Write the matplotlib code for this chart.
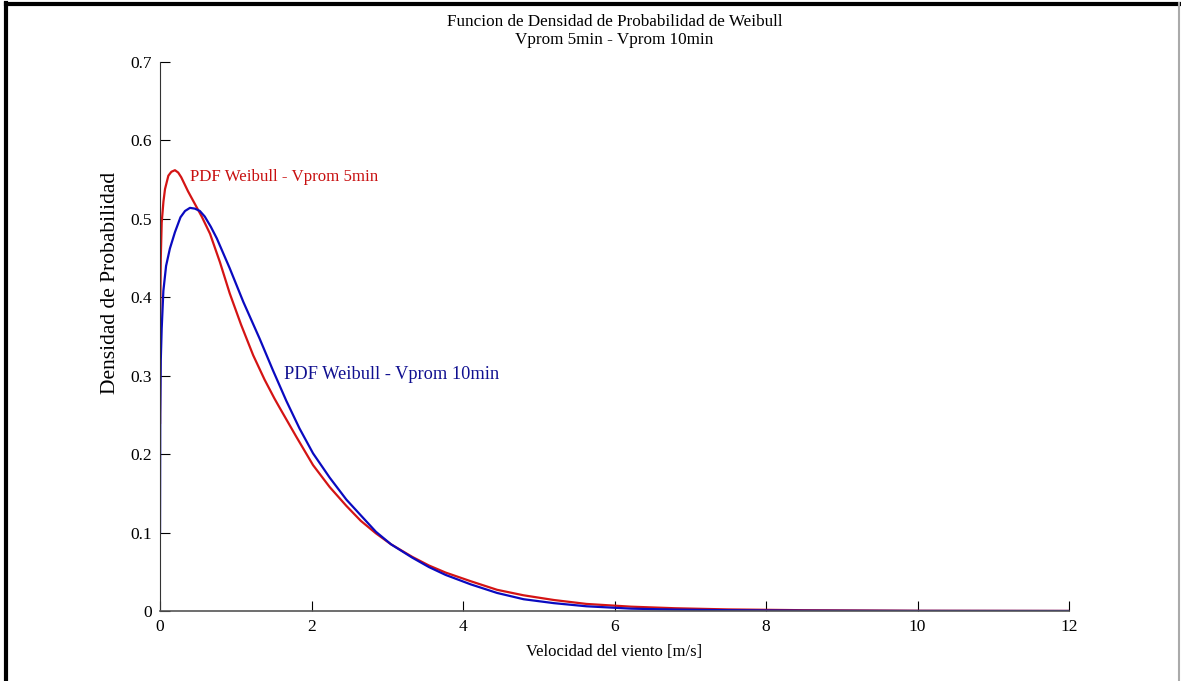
import matplotlib
matplotlib.use('Agg')
import matplotlib.pyplot as plt
from matplotlib.lines import Line2D

plt.rcParams['font.family'] = ['Liberation Serif', 'DejaVu Serif']

x_5min = [0, 0.003, 0.01, 0.022, 0.045, 0.066, 0.11, 0.15, 0.197, 0.24, 0.28,
          0.37, 0.46, 0.55, 0.66, 0.79, 0.92, 1.07, 1.23, 1.38, 1.51, 1.58,
          1.8, 2.02, 2.24, 2.46, 2.65, 2.85, 3.05, 3.33, 3.55, 3.77, 4.1,
          4.45, 4.8, 5.2, 5.63, 6.22, 6.8, 7.5, 8.5, 10, 12]
pdf_5min = [0.24, 0.38, 0.45, 0.495, 0.522, 0.538, 0.555, 0.560, 0.562, 0.559,
            0.553, 0.535, 0.519, 0.503, 0.481, 0.445, 0.405, 0.365, 0.326,
            0.295, 0.271, 0.259, 0.222, 0.186, 0.158, 0.134, 0.115, 0.099,
            0.085, 0.069, 0.058, 0.049, 0.038, 0.027, 0.02, 0.014, 0.009,
            0.0055, 0.0035, 0.002, 0.001, 0.0003, 0.0001]

x_10min = [0, 0.003, 0.01, 0.022, 0.044, 0.08, 0.13, 0.197, 0.27, 0.33, 0.395,
           0.46, 0.526, 0.59, 0.67, 0.75, 0.92, 1.1, 1.316, 1.49, 1.667, 1.84,
           2.02, 2.24, 2.46, 2.65, 2.85, 3.05, 3.33, 3.55, 3.77, 4.1, 4.45,
           4.8, 5.2, 5.63, 6.22, 6.8, 7.5, 8.5, 10, 12]
pdf_10min = [0.10, 0.25, 0.32, 0.36, 0.408, 0.44, 0.462, 0.483, 0.502, 0.510,
             0.514, 0.513, 0.510, 0.503, 0.490, 0.475, 0.437, 0.394, 0.347,
             0.307, 0.268, 0.233, 0.201, 0.17, 0.142, 0.122, 0.101, 0.085,
             0.068, 0.056, 0.046, 0.034, 0.023, 0.015, 0.01, 0.006, 0.003,
             0.0018, 0.001, 0.0004, 0.0001, 0.0]

RED = '#d41414'; BLUE = '#0a0ac0'

fig = plt.figure(figsize=(11.81, 6.81), dpi=100)
ax = fig.add_axes([0.1355, 0.1028, 0.7697, 0.8062])

ax.plot(x_5min, pdf_5min, color=RED, lw=1.6, solid_joinstyle='round')
ax.plot(x_10min, pdf_10min, color=BLUE, lw=1.6, solid_joinstyle='round')

ax.text(0.39, 0.553, 'PDF Weibull - Vprom 5min', color='#c81010', fontsize=12.2,
        ha='left', va='center')
ax.text(1.63, 0.301, 'PDF Weibull - Vprom 10min', color='#101090', fontsize=13.2,
        ha='left', va='center')

ax.set_xlim(0, 12)
ax.set_ylim(0, 0.7)
ax.set_xticks([0, 2, 4, 6, 8, 10, 12])
ax.set_yticks([0, 0.1, 0.2, 0.3, 0.4, 0.5, 0.6, 0.7])
ax.set_yticklabels(['0', '0.1', '0.2', '0.3', '0.4', '0.5', '0.6', '0.7'])
ax.tick_params(direction='in', length=7, width=0.8, labelsize=12.5, pad=6)
ax.spines['top'].set_visible(False)
ax.spines['right'].set_visible(False)
ax.spines['left'].set_color('#333333')
ax.spines['bottom'].set_color('#555555')
ax.spines['bottom'].set_linewidth(1.2)

ax.set_xlabel('Velocidad del viento [m/s]', fontsize=12, labelpad=6)
ax.set_ylabel('Densidad de Probabilidad', fontsize=15.5)
ax.yaxis.set_label_coords(-0.044, 0.597)
ax.set_title('Funcion de Densidad de Probabilidad de Weibull\nVprom 5min - Vprom 10min',
             fontsize=12.3, pad=13, linespacing=1.2)

# outer frame
fig.add_artist(Line2D([0.005, 0.005], [0, 0.996], transform=fig.transFigure,
                      color='black', lw=3))
fig.add_artist(Line2D([0.005, 0.998], [0.994, 0.994], transform=fig.transFigure,
                      color='black', lw=3))
fig.add_artist(Line2D([0.998, 0.998], [0, 0.996], transform=fig.transFigure,
                      color='#aaaaaa', lw=1.5))

fig.savefig('out.png', dpi=100)
